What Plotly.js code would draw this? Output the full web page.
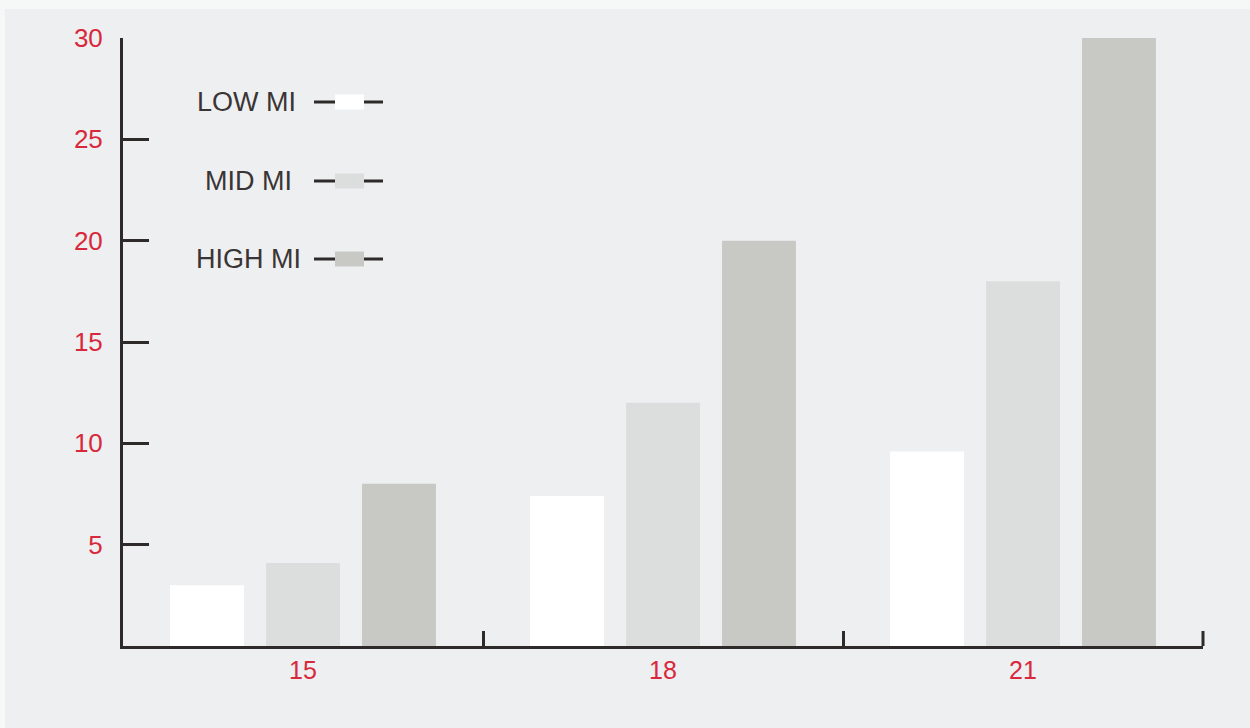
<!DOCTYPE html>
<html>
<head>
<meta charset="utf-8">
<script src="https://cdn.plot.ly/plotly-3.0.1.min.js"></script>
<style>html,body{margin:0;padding:0;background:#f6f7f7;}#chart{width:1250px;height:728px;}</style>
</head>
<body>
<div id="chart"></div>
<script>
// ---- data ----
const categories = ["15", "18", "21"];
const seriesNames = ["LOW MI", "MID MI", "HIGH MI"];
const lowMI  = [3.0, 7.4, 9.6];
const midMI  = [4.1, 12.0, 18.0];
const highMI = [8.0, 20.0, 30.0];
const yTickVals = [5, 10, 15, 20, 25, 30];
const yTickText = ["5", "10", "15", "20", "25", "30"];

// ---- styles ----
const colors = ["#ffffff", "#dcdedd", "#c8c8c5"];
const axisColor = "#2e2a2a";
const labelRed = "#d8283c";
const FONT = "Liberation Sans, Arial, sans-serif";

// plot area in pixels
const L = 123, R = 1203, T = 38, B = 646;
const W = R - L, H = B - T;
const px = x => (x - L) / W;
const py = y => (B - y) / H;

const values = [lowMI, midMI, highMI];
const traces = seriesNames.map((n, i) => ({
  type: "bar",
  name: n,
  x: categories,
  y: values[i],
  marker: {color: colors[i], line: {width: 0}},
  hoverinfo: "x+y+name",
  showlegend: false
}));

// custom legend (text on left, sample on right)
const legendRows = [102, 181, 259];
const legendTextRight = [298, 294, 303];
const shapes = [
  {type: "rect", xref: "paper", yref: "paper", x0: px(5), x1: px(1252), y0: py(730), y1: py(9),
   fillcolor: "#eeeff1", line: {width: 0}, layer: "below"},
  // closing tick at right end of x axis
  {type: "line", xref: "paper", yref: "paper", x0: 1, x1: 1, y0: 0, y1: py(B - 15),
   line: {color: axisColor, width: 3}}
];
const annotations = [];
seriesNames.forEach((n, i) => {
  const yc = legendRows[i];
  shapes.push({type: "line", xref: "paper", yref: "paper", x0: px(314), x1: px(383), y0: py(yc), y1: py(yc),
    line: {color: axisColor, width: 3}});
  shapes.push({type: "rect", xref: "paper", yref: "paper", x0: px(335), x1: px(364), y0: py(yc + 7.5), y1: py(yc - 7.5),
    fillcolor: colors[i], line: {width: 0}});
  annotations.push({xref: "paper", yref: "paper", x: px(legendTextRight[i]), y: py(yc), xanchor: "right", yanchor: "middle",
    text: n, showarrow: false, font: {family: FONT, size: 27, color: "#3a3535"}});
});

const layout = {
  width: 1250, height: 728,
  margin: {l: L, r: 1250 - R, t: T, b: 728 - B, pad: 0},
  paper_bgcolor: "#f6f7f7",
  plot_bgcolor: "rgba(0,0,0,0)",
  barmode: "group",
  bargap: 0.2,
  bargroupgap: 0.23,
  showlegend: false,
  xaxis: {
    type: "category",
    showline: true, linecolor: axisColor, linewidth: 3,
    showgrid: false, zeroline: false,
    ticks: "inside", tickson: "boundaries", ticklen: 15, tickwidth: 3, tickcolor: axisColor,
    tickfont: {family: FONT, size: 25, color: labelRed},
    ticklabelstandoff: 0,
    fixedrange: true
  },
  yaxis: {
    range: [0, 30],
    showline: true, linecolor: axisColor, linewidth: 3,
    showgrid: false, zeroline: false,
    tickmode: "array", tickvals: yTickVals, ticktext: yTickText,
    ticks: "inside", ticklen: 26, tickwidth: 3, tickcolor: axisColor,
    tickfont: {family: FONT, size: 26, color: labelRed},
    ticklabelstandoff: 12,
    fixedrange: true
  },
  shapes: shapes,
  annotations: annotations
};

Plotly.newPlot("chart", traces, layout, {displayModeBar: false, staticPlot: true});
</script>
</body>
</html>
